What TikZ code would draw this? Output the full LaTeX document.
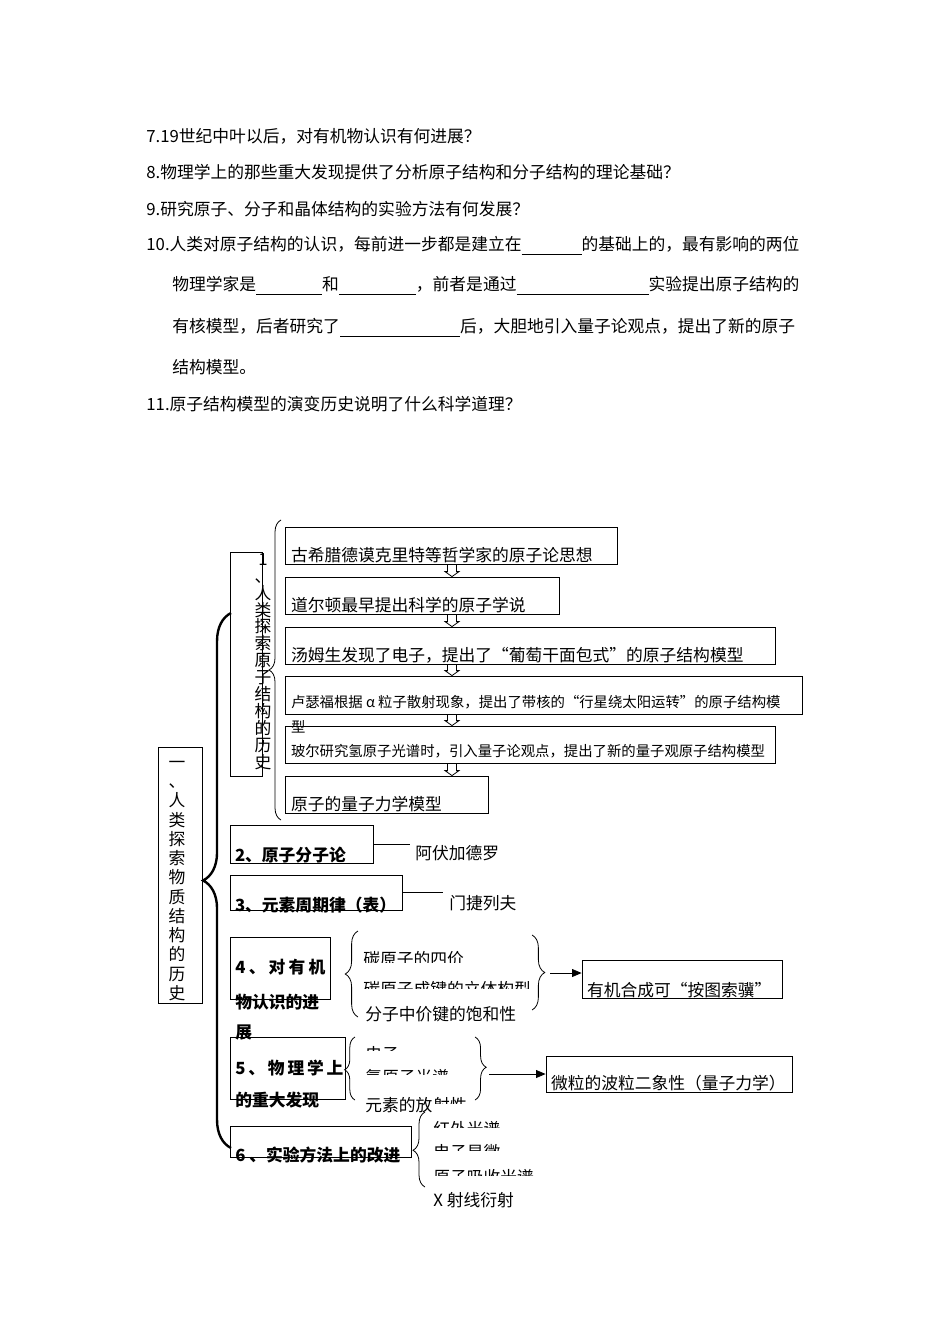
\documentclass[tikz,border=0pt]{standalone}
\usepackage{fontspec}
\setmainfont{Noto Sans CJK SC}
\usetikzlibrary{arrows.meta,calc,fit,decorations.pathreplacing}

\newlength\pxu
\setlength\pxu{0.6265pt}
\newcommand\blank[1]{\rule[-2pt]{#1\pxu}{0.4pt}}

\begin{document}
\begin{tikzpicture}[x=0.6265pt,y=-0.6265pt,line width=0.5pt,
    box/.style={draw,rectangle,inner sep=0pt,fit={#1}},
    txt/.style={inner sep=0pt,anchor=base west,font=\fontsize{10.5}{12}\selectfont},
    small/.style={txt,font=\fontsize{9}{10}\selectfont},
    bold/.style={txt,font=\fontsize{10.5}{12}\selectfont\bfseries},
    vchar/.style={inner sep=0pt,text height=9.2pt,text depth=1.3pt,font=\fontsize{10.5}{12}\selectfont},
    brace/.style 2 args={decorate,decoration={brace,amplitude=#1,aspect=#2}},
    bigbrace/.style={decorate,decoration={brace,amplitude=17.5pt,aspect=0.5},line width=1.5pt},
    arr/.style={-{Triangle[length=6pt,width=5pt]}}]
  \useasboundingbox (0,0) rectangle (950,1344);

  % questions
  \node[txt] (q7)  at (146,143) {7.19世纪中叶以后，对有机物认识有何进展？};
  \node[txt] (q8)  at (146,179) {8.物理学上的那些重大发现提供了分析原子结构和分子结构的理论基础？};
  \node[txt] (q9)  at (146,216) {9.研究原子、分子和晶体结构的实验方法有何发展？};
  \node[txt] (q10) at (146,251) {10.人类对原子结构的认识，每前进一步都是建立在\blank{60}的基础上的，最有影响的两位};
  \node[txt] (q10b) at (172,291) {物理学家是\blank{66}和\blank{77}，前者是通过\blank{132}实验提出原子结构的};
  \node[txt] (q10c) at (172,333) {有核模型，后者研究了\blank{120}后，大胆地引入量子论观点，提出了新的原子};
  \node[txt] (q10d) at (172,373) {结构模型。};
  \node[txt] (q11) at (146,410) {11.原子结构模型的演变历史说明了什么科学道理？};

  % main title
  \node[box={(158,747) (202,1003)}] (M) {};
  \foreach \c [count=\i] in {一,、,人,类,探,索,物,质,结,构,的,历,史}
    \node[vchar] (m\i) at (177,{762+(\i-1)*19.25}) {\c};
  \draw[bigbrace] (231,1148) -- (231,613);

  % 1
  \node[box={(230,552) (262,776)}] (H) {};
  \foreach \c [count=\i] in {1,、,人,类,探,索,原,子,结,构,的,历,史}
    \node[vchar] (h\i) at (263,{559+(\i-1)*16.9}) {\c};
  \draw[brace={7.5pt}{0.5}] (281,820) -- (281,520);

  \node[box={(285,527) (617,564)}] (A) {};
  \node[box={(285,577) (559,614)}] (B) {};
  \node[box={(285,627) (775,664)}] (C) {};
  \node[box={(285,676) (802,714)}] (D) {};
  \node[box={(285,726) (775,763)}] (E) {};
  \node[box={(285,776) (488,813)}] (F) {};
  \node[txt] (tA) at ([shift={(6,-3)}]A.south west) {古希腊德谟克里特等哲学家的原子论思想};
  \node[txt] (tB) at ([shift={(6,-3)}]B.south west) {道尔顿最早提出科学的原子学说};
  \node[txt] (tC) at ([shift={(6,-3)}]C.south west) {汤姆生发现了电子，提出了“葡萄干面包式”的原子结构模型};
  \node[small] (tD) at ([shift={(6,-7)}]D.south west) {卢瑟福根据 α 粒子散射现象，提出了带核的“行星绕太阳运转”的原子结构模};
  \node[small] (tD2) at ([shift={(6,18)}]D.south west) {型};
  \node[small] (tE) at ([shift={(6,-7)}]E.south west) {玻尔研究氢原子光谱时，引入量子论观点，提出了新的量子观原子结构模型};
  \node[txt] (tF) at ([shift={(6,-3)}]F.south west) {原子的量子力学模型};

  \coordinate (ax) at (452,0);
  \foreach \a/\b in {A/B,B/C,C/D,D/E,E/F}
    \draw ($(ax|-\a.south)+(-4.5,0)$) -- ($(ax|-\b.north)+(-4.5,-5)$)
      -- ($(ax|-\b.north)+(-7,-5)$) -- (ax|-\b.north) -- ($(ax|-\b.north)+(7,-5)$)
      -- ($(ax|-\b.north)+(4.5,-5)$) -- ($(ax|-\a.south)+(4.5,0)$);

  % 2, 3
  \node[box={(230,825) (373,863)}] (B2) {};
  \node[bold] (t2) at ([shift={(5,-2)}]B2.south west) {2、原子分子论};
  \coordinate (e2) at (410,844);
  \draw (B2.east) -- (e2);
  \node[txt] (avo) at (415,859) {阿伏加德罗};

  \node[box={(230,875) (402,910)}] (B3) {};
  \node[bold] (t3) at ([shift={(5,1)}]B3.south west) {3、元素周期律（表）};
  \coordinate (e3) at (443,892.5);
  \draw (B3.east) -- (e3);
  \node[txt] (men) at (449,909) {门捷列夫};

  % 4
  \node[box={(230,937) (330,999)}] (B4) {};
  \node[bold] (t4a) at (235,973) {\makebox[90\pxu][s]{4 、 对 有 机}};
  \node[bold] (t4b) at (235,1008) {物认识的进};
  \node[bold] (t4c) at (235,1038) {展};
  \draw[brace={8pt}{0.5}] (358,1017) -- (358,931);
  \begin{scope}
    \clip (360,945) rectangle (540,962);
    \node[txt] (c41) at (363,965.5) {碳原子的四价};
  \end{scope}
  \begin{scope}
    \clip (360,975) rectangle (540,988);
    \node[txt] (c42) at (363,995.5) {碳原子成键的立体构型};
  \end{scope}
  \node[txt] (c43) at (365,1020) {分子中价键的饱和性};
  \draw[brace={8pt}{0.5}] (532,935) -- (532,1010);
  \coordinate (k4) at (550,973);
  \node[box={(582,960) (782,998)}] (R4) {};
  \node[txt] (r4) at ([shift={(5,-2)}]R4.south west) {有机合成可“按图索骥”};
  \draw[arr] (k4) -- (k4 -| R4.west);

  % 5
  \node[box={(230,1037) (345,1099)}] (B5) {};
  \node[bold] (t5a) at (235,1074) {\makebox[108\pxu][s]{5 、 物 理 学 上}};
  \node[bold] (t5b) at (235,1106) {的重大发现};
  \draw[brace={6.5pt}{0.48}] (355,1100) -- (355,1037);
  \begin{scope}
    \clip (360,1040) rectangle (480,1050.5);
    \node[txt] (c51) at (365,1060.5) {电子};
  \end{scope}
  \begin{scope}
    \clip (360,1063) rectangle (480,1074);
    \node[txt] (c52) at (365,1083.5) {氢原子光谱};
  \end{scope}
  \node[txt] (c53) at (365,1111) {元素的放};
  \begin{scope}
    \clip (420,1090) rectangle (480,1103);
    \node[txt] (c54) at (c53.base east) {射性};
  \end{scope}
  \draw[brace={7pt}{0.48}] (475,1037) -- (475,1100);
  \coordinate (k5) at (489,1074);
  \node[box={(546,1056) (792,1092)}] (R5) {};
  \node[txt] (r5) at ([shift={(5,-3)}]R5.south west) {微粒的波粒二象性（量子力学）};
  \draw[arr] (k5) -- (k5 -| R5.west);

  % 6
  \node[box={(230,1126) (411,1157)}] (B6) {};
  \node[bold] (t6) at (235,1161) {6 、实验方法上的改进};
  \draw[brace={7.5pt}{0.49}] (425,1187) -- (425,1112);
  \begin{scope}
    \clip (430,1115) rectangle (560,1127);
    \node[txt] (c61) at (433,1135.5) {红外光谱};
  \end{scope}
  \begin{scope}
    \clip (430,1138) rectangle (560,1150);
    \node[txt] (c62) at (433,1158.5) {电子显微};
  \end{scope}
  \begin{scope}
    \clip (430,1163) rectangle (560,1175);
    \node[txt] (c63) at (433,1183.5) {原子吸收光谱};
  \end{scope}
  \node[txt] (xr) at (433,1206) {X 射线衍射};
\end{tikzpicture}
\end{document}
